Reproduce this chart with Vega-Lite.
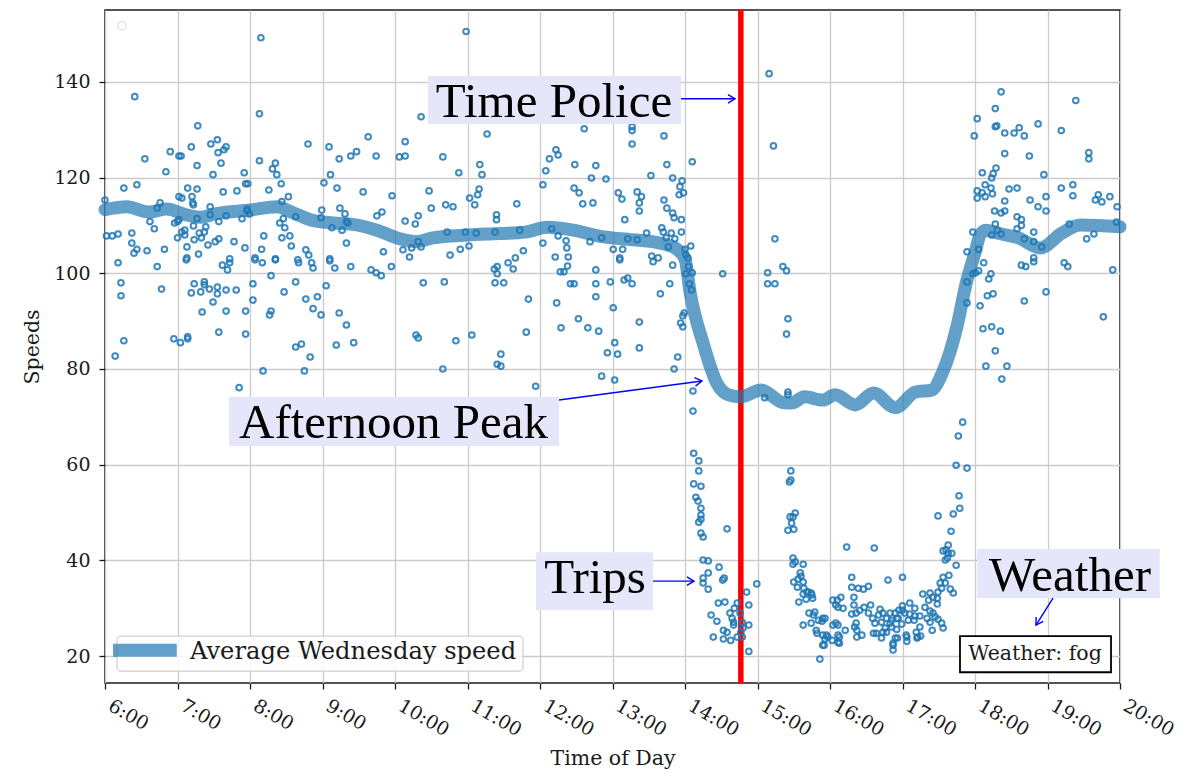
{
"$schema":"https://vega.github.io/schema/vega-lite/v6.json",
"width":1015,"height":673,
"autosize":{"type":"none"},
"padding":{"left":105,"top":10,"right":76,"bottom":89},
"background":"white",
"datasets":{
"avg":[{"t":6.0,"s":113.3},{"t":6.3,"s":113.9},{"t":6.6,"s":112.8},{"t":6.85,"s":113.4},{"t":7.1,"s":112.3},{"t":7.3,"s":111.7},{"t":7.55,"s":112.5},{"t":8.0,"s":113.2},{"t":8.37,"s":113.9},{"t":8.6,"s":112.6},{"t":8.83,"s":111.2},{"t":9.15,"s":110.5},{"t":9.42,"s":110.2},{"t":9.75,"s":109},{"t":10.07,"s":107.2},{"t":10.3,"s":106.6},{"t":10.52,"s":107.4},{"t":11.0,"s":108},{"t":11.45,"s":108.3},{"t":11.8,"s":108.6},{"t":12.1,"s":109.6},{"t":12.46,"s":109},{"t":12.83,"s":107.7},{"t":13.28,"s":107},{"t":13.66,"s":106.3},{"t":13.89,"s":105},{"t":14.0,"s":103},{"t":14.07,"s":96},{"t":14.25,"s":85.4},{"t":14.44,"s":77},{"t":14.6,"s":74.6},{"t":14.77,"s":74.2},{"t":15.05,"s":75.6},{"t":15.35,"s":73},{"t":15.47,"s":72.9},{"t":15.65,"s":74.2},{"t":15.9,"s":73.5},{"t":16.07,"s":74.6},{"t":16.35,"s":72.5},{"t":16.6,"s":75},{"t":16.9,"s":71.9},{"t":17.18,"s":75.2},{"t":17.4,"s":75.6},{"t":17.55,"s":79.2},{"t":17.75,"s":88.8},{"t":17.88,"s":98},{"t":17.97,"s":102.8},{"t":18.0,"s":104.3},{"t":18.07,"s":108},{"t":18.15,"s":109},{"t":18.3,"s":108.4},{"t":18.6,"s":107.4},{"t":18.9,"s":105.3},{"t":19.2,"s":108.4},{"t":19.45,"s":110.1},{"t":20.0,"s":109.7}],
"pts":[
{"t":6.0,"s":115.3},{"t":6.02,"s":107.8},{"t":6.1,"s":107.8},{"t":6.18,"s":108.2},{"t":6.26,"s":117.8},{"t":6.37,"s":108.4},{"t":6.37,"s":106.3},{"t":6.4,"s":104.2},{"t":6.44,"s":105},{"t":6.44,"s":118.5},{"t":6.41,"s":136.9},{"t":6.55,"s":123.9},{"t":6.58,"s":104.7},{"t":6.62,"s":110.8},{"t":6.68,"s":109.3},{"t":6.72,"s":113.6},{"t":6.76,"s":114.7},{"t":6.82,"s":105},{"t":6.84,"s":121.2},{"t":6.9,"s":125.4},{"t":6.96,"s":110.5},{"t":7.0,"s":110.8},{"t":7.02,"s":124.5},{"t":7.05,"s":124.5},{"t":7.02,"s":116},{"t":7.06,"s":115.7},{"t":7.02,"s":111.2},{"t":7.0,"s":107.4},{"t":7.06,"s":108.6},{"t":7.1,"s":109},{"t":7.1,"s":108},{"t":7.13,"s":105.5},{"t":7.13,"s":103.2},{"t":7.14,"s":117.8},{"t":7.19,"s":126.4},{"t":7.2,"s":116},{"t":7.21,"s":114.7},{"t":7.22,"s":114.3},{"t":7.27,"s":117.6},{"t":7.27,"s":122.5},{"t":7.28,"s":130.8},{"t":7.27,"s":111.4},{"t":7.22,"s":109.9},{"t":7.23,"s":107},{"t":7.29,"s":104},{"t":7.3,"s":108.4},{"t":7.33,"s":107.4},{"t":7.37,"s":108.6},{"t":7.39,"s":109.7},{"t":7.42,"s":105.9},{"t":7.45,"s":113.9},{"t":7.45,"s":112.2},{"t":7.46,"s":127},{"t":7.49,"s":120.6},{"t":7.52,"s":106.6},{"t":7.55,"s":127.9},{"t":7.56,"s":125.2},{"t":7.57,"s":107.2},{"t":7.57,"s":110.8},{"t":7.6,"s":123},{"t":7.63,"s":117},{"t":7.64,"s":125.8},{"t":7.67,"s":126.4},{"t":7.67,"s":112},{"t":7.72,"s":103},{"t":7.78,"s":106.6},{"t":7.82,"s":117.2},{"t":7.89,"s":111.4},{"t":7.92,"s":121},{"t":7.94,"s":118.7},{"t":7.97,"s":118.7},{"t":7.96,"s":113},{"t":7.93,"s":105.3},{"t":7.96,"s":113.4},{"t":7.99,"s":112.4},{"t":8.07,"s":103.2},{"t":8.13,"s":123.5},{"t":8.13,"s":133.3},{"t":8.15,"s":149.2},{"t":8.16,"s":105},{"t":8.19,"s":107.8},{"t":8.26,"s":117.4},{"t":8.31,"s":121.8},{"t":8.35,"s":123},{"t":8.37,"s":120.6},{"t":8.35,"s":103},{"t":8.41,"s":110.5},{"t":8.43,"s":118.7},{"t":8.44,"s":115},{"t":8.46,"s":111.4},{"t":8.48,"s":109.5},{"t":8.44,"s":107.4},{"t":8.53,"s":116},{"t":8.55,"s":107.8},{"t":8.57,"s":105.7},{"t":8.63,"s":111.8},{"t":8.66,"s":102.8},{"t":8.77,"s":104.9},{"t":8.8,"s":127},{"t":8.81,"s":103.8},{"t":8.98,"s":111.6},{"t":8.99,"s":113.2},{"t":9.02,"s":118.9},{"t":9.09,"s":126.4},{"t":9.11,"s":120.6},{"t":9.13,"s":109.5},{"t":9.1,"s":103},{"t":9.2,"s":117.8},{"t":9.24,"s":113.6},{"t":9.23,"s":123.9},{"t":9.27,"s":109},{"t":9.31,"s":112.4},{"t":9.33,"s":110.8},{"t":9.35,"s":110.5},{"t":9.33,"s":106.3},{"t":9.39,"s":124.5},{"t":9.47,"s":125.4},{"t":9.56,"s":117},{"t":9.63,"s":128.5},{"t":9.74,"s":124.5},{"t":9.75,"s":112},{"t":9.82,"s":112.8},{"t":9.84,"s":104.5},{"t":9.96,"s":116.2},{"t":10.06,"s":124.3},
{"t":6.18,"s":102.2},{"t":6.22,"s":98},{"t":6.22,"s":95.3},{"t":6.26,"s":85.9},{"t":6.14,"s":82.7},{"t":6.72,"s":101.4},{"t":6.78,"s":96.7},{"t":6.95,"s":86.3},{"t":7.04,"s":85.5},{"t":7.14,"s":86.3},{"t":7.14,"s":86.7},{"t":7.12,"s":102.8},{"t":7.19,"s":95.9},{"t":7.23,"s":97.8},{"t":7.32,"s":96.1},{"t":7.37,"s":98.2},{"t":7.37,"s":97.6},{"t":7.34,"s":91.9},{"t":7.44,"s":96.7},{"t":7.49,"s":94},{"t":7.55,"s":97.1},{"t":7.55,"s":95.7},{"t":7.57,"s":87.7},{"t":7.62,"s":101.7},{"t":7.69,"s":100.7},{"t":7.72,"s":102.2},{"t":7.67,"s":96.5},{"t":7.67,"s":92.1},{"t":7.81,"s":96.5},{"t":7.85,"s":76.1},{"t":7.94,"s":92.1},{"t":7.94,"s":87.3},{"t":8.04,"s":97.8},{"t":8.04,"s":94.4},{"t":8.07,"s":102.8},{"t":8.17,"s":102.2},{"t":8.18,"s":79.6},{"t":8.29,"s":99.5},{"t":8.29,"s":92.1},{"t":8.27,"s":91.3},{"t":8.35,"s":102.8},{"t":8.47,"s":96.1},{"t":8.63,"s":84.6},{"t":8.71,"s":85.2},{"t":8.63,"s":98.2},{"t":8.67,"s":102.2},{"t":8.77,"s":94.6},{"t":8.83,"s":82.5},{"t":8.75,"s":79.6},{"t":8.85,"s":102.2},{"t":8.87,"s":101.1},{"t":8.87,"s":92.6},{"t":8.93,"s":95.1},{"t":8.98,"s":91.3},{"t":9.05,"s":97.4},{"t":9.1,"s":102.6},{"t":9.17,"s":101.1},{"t":9.23,"s":91.7},{"t":9.33,"s":89.2},{"t":9.19,"s":85},{"t":9.43,"s":85.5},{"t":9.39,"s":101.4},{"t":9.67,"s":100.7},{"t":9.74,"s":100.1},{"t":9.81,"s":99.5},{"t":9.95,"s":101.4},
{"t":10.98,"s":150.5},{"t":10.36,"s":132.7},{"t":10.14,"s":127.5},{"t":10.14,"s":124.5},{"t":10.66,"s":124.3},{"t":11.27,"s":129.1},{"t":11.17,"s":122.7},{"t":11.2,"s":120.6},{"t":10.88,"s":121},{"t":10.47,"s":117.2},{"t":10.5,"s":113.6},{"t":10.14,"s":110.9},{"t":10.28,"s":110.3},{"t":10.32,"s":112},{"t":10.7,"s":114.3},{"t":10.8,"s":113.9},{"t":11.03,"s":115.7},{"t":11.1,"s":114.3},{"t":11.16,"s":117.6},{"t":11.14,"s":116.4},{"t":11.4,"s":112.2},{"t":11.4,"s":111.2},{"t":11.68,"s":114.5},{"t":12.04,"s":118.5},{"t":12.08,"s":121.4},{"t":12.13,"s":123.9},{"t":12.22,"s":125.8},{"t":12.25,"s":124.7},{"t":12.48,"s":122.7},{"t":12.61,"s":130.2},{"t":12.77,"s":122.5},{"t":12.71,"s":119.9},{"t":12.91,"s":119.7},{"t":12.47,"s":117.8},{"t":12.54,"s":116.8},{"t":12.59,"s":114.5},{"t":12.73,"s":114.7},{"t":13.08,"s":116.8},{"t":13.13,"s":115.5},{"t":13.34,"s":117},{"t":13.4,"s":116},{"t":13.53,"s":120.4},{"t":13.37,"s":113},{"t":13.17,"s":111.2},{"t":13.27,"s":130.6},{"t":13.27,"s":129.8},{"t":13.27,"s":127},{"t":13.71,"s":128.7},{"t":13.75,"s":122.7},{"t":13.83,"s":119.9},{"t":13.96,"s":119.3},{"t":13.93,"s":118.1},{"t":13.98,"s":116.8},{"t":14.1,"s":123.3},{"t":13.92,"s":116.4},{"t":13.71,"s":115.3},{"t":13.75,"s":113.6},{"t":13.37,"s":114.7},{"t":13.83,"s":112.6},{"t":13.85,"s":111.6},{"t":13.95,"s":111.2},{"t":13.95,"s":108.6},{"t":13.68,"s":109.5},{"t":13.7,"s":108.6},{"t":13.74,"s":107.4},{"t":13.81,"s":108.4},{"t":13.86,"s":107.2},{"t":13.77,"s":105.5},{"t":13.47,"s":108.4},{"t":13.21,"s":107.2},{"t":13.34,"s":107},{"t":13.01,"s":105},{"t":13.14,"s":105},{"t":12.85,"s":107.4},{"t":12.69,"s":106.6},{"t":12.36,"s":106.8},{"t":12.25,"s":107.8},{"t":12.16,"s":109.3},{"t":12.04,"s":106.3},{"t":11.72,"s":109},{"t":11.38,"s":108.6},{"t":11.12,"s":108.4},{"t":10.97,"s":108.6},{"t":10.72,"s":108.6},{"t":11.02,"s":105.7},{"t":10.9,"s":105},{"t":10.76,"s":103.8},{"t":10.36,"s":105.5},{"t":10.32,"s":106.6},{"t":10.23,"s":105.3},{"t":10.11,"s":104.9},{"t":10.2,"s":103.4},{"t":11.77,"s":104.7},{"t":12.37,"s":105.3},{"t":12.39,"s":103.4},{"t":12.21,"s":103.4},{"t":11.66,"s":103.2},{"t":13.1,"s":103.2},{"t":13.54,"s":103.6},{"t":13.63,"s":103.2},{"t":14.0,"s":105},{"t":14.01,"s":103.8},{"t":14.04,"s":103.2},{"t":14.08,"s":105.7},{"t":15.16,"s":141.7},{"t":15.22,"s":126.6},{"t":15.24,"s":107.2},
{"t":10.39,"s":98},{"t":10.68,"s":98.2},{"t":10.29,"s":87.1},{"t":10.32,"s":86.5},{"t":10.84,"s":85.9},{"t":11.06,"s":87.1},{"t":10.66,"s":80},{"t":11.37,"s":100.9},{"t":11.41,"s":101.4},{"t":11.41,"s":99.9},{"t":11.38,"s":98},{"t":11.5,"s":98},{"t":11.56,"s":102.2},{"t":11.63,"s":100.9},{"t":11.84,"s":94.6},{"t":11.81,"s":87.7},{"t":11.46,"s":83.1},{"t":11.41,"s":81},{"t":11.46,"s":80.6},{"t":11.94,"s":76.4},{"t":12.23,"s":93.8},{"t":12.29,"s":88.6},{"t":12.28,"s":100.3},{"t":12.33,"s":100.3},{"t":12.38,"s":101.5},{"t":12.42,"s":97.8},{"t":12.47,"s":97.8},{"t":12.53,"s":90.5},{"t":12.66,"s":88.6},{"t":12.77,"s":100.7},{"t":12.77,"s":97.8},{"t":12.77,"s":95.1},{"t":12.81,"s":87.9},{"t":12.85,"s":78.5},{"t":12.97,"s":98.2},{"t":13.01,"s":92.8},{"t":13.03,"s":85.5},{"t":12.93,"s":83.4},{"t":13.07,"s":83.1},{"t":13.03,"s":77.7},{"t":13.16,"s":98.6},{"t":13.21,"s":99},{"t":13.27,"s":97.8},{"t":13.37,"s":89.8},{"t":13.37,"s":84.4},{"t":13.1,"s":102.8},{"t":13.56,"s":102.4},{"t":13.66,"s":95.7},{"t":13.79,"s":97.8},{"t":13.83,"s":101.7},{"t":13.85,"s":80},{"t":13.9,"s":82.5},{"t":13.94,"s":89.6},{"t":13.97,"s":88.8},{"t":13.97,"s":91.1},{"t":13.99,"s":91.7},{"t":14.01,"s":99.9},{"t":14.05,"s":101.4},{"t":14.1,"s":100.1},{"t":14.06,"s":97.8},{"t":14.09,"s":96.5},{"t":14.11,"s":75.4},{"t":14.11,"s":71.2},{"t":14.52,"s":99.9},{"t":15.1,"s":74},{"t":15.14,"s":100.1},{"t":15.14,"s":97.8},{"t":15.24,"s":97.8},{"t":15.35,"s":101.4},{"t":15.4,"s":100.5},{"t":15.42,"s":90.5},{"t":15.4,"s":87.3},{"t":15.42,"s":75.2},{"t":15.42,"s":74.6},{"t":14.12,"s":62.4},{"t":14.19,"s":60.8},{"t":14.19,"s":58.7},{"t":14.12,"s":56},{"t":14.22,"s":55.5},{"t":14.15,"s":53.2},{"t":14.18,"s":52.4},{"t":14.22,"s":50.9},{"t":14.22,"s":49.5},{"t":15.46,"s":58.7},{"t":15.44,"s":56.4},{"t":15.46,"s":56.8},{"t":15.52,"s":49.9},
{"t":14.22,"s":48.6},{"t":14.19,"s":48},{"t":14.22,"s":45.7},{"t":14.25,"s":44.9},{"t":14.58,"s":46.6},{"t":14.25,"s":40.1},{"t":14.32,"s":39.9},{"t":14.47,"s":38.6},{"t":14.32,"s":37.4},{"t":14.25,"s":36.3},{"t":14.25,"s":35.3},{"t":14.52,"s":35.9},{"t":14.54,"s":36.3},{"t":14.32,"s":34},{"t":14.99,"s":35.1},{"t":14.85,"s":33.4},{"t":14.88,"s":30.7},{"t":14.46,"s":31.1},{"t":14.55,"s":31.3},{"t":14.72,"s":31.1},{"t":14.68,"s":30},{"t":14.62,"s":29},{"t":14.36,"s":28.6},{"t":14.76,"s":29},{"t":14.65,"s":27.9},{"t":14.67,"s":27.1},{"t":14.44,"s":27.3},{"t":14.79,"s":27.1},{"t":14.88,"s":26.5},{"t":14.67,"s":26.5},{"t":14.8,"s":25.9},{"t":14.53,"s":25.4},{"t":14.58,"s":25},{"t":14.39,"s":24},{"t":14.53,"s":23.6},{"t":14.63,"s":23.3},{"t":14.72,"s":24},{"t":14.79,"s":24},{"t":14.77,"s":25},{"t":14.88,"s":21},{"t":15.42,"s":46.3},{"t":15.45,"s":49.1},
{"t":15.49,"s":49.1},{"t":15.47,"s":47.8},{"t":15.5,"s":46.5},{"t":15.49,"s":40.5},{"t":15.52,"s":39.7},{"t":15.63,"s":39.2},{"t":15.49,"s":39.2},{"t":15.6,"s":36.7},{"t":15.56,"s":36.1},{"t":15.5,"s":35.5},{"t":15.63,"s":35.5},{"t":15.55,"s":34.4},{"t":15.64,"s":34.2},{"t":15.68,"s":33.4},{"t":15.63,"s":33},{"t":15.74,"s":33.2},{"t":15.76,"s":32.1},{"t":15.67,"s":31.9},{"t":15.57,"s":31.3},{"t":15.71,"s":29},{"t":15.77,"s":28.6},{"t":15.74,"s":26.9},{"t":15.63,"s":26.5},{"t":15.81,"s":25.4},{"t":15.89,"s":27.3},{"t":15.93,"s":27.9},{"t":15.82,"s":24.8},{"t":15.9,"s":24.4},{"t":15.93,"s":23.6},{"t":15.97,"s":24},{"t":15.9,"s":22.3},{"t":16.03,"s":23.3},{"t":15.86,"s":19.4},{"t":16.23,"s":42.8},{"t":16.61,"s":42.6},{"t":16.3,"s":36.5},{"t":16.3,"s":34.4},{"t":16.39,"s":34.2},{"t":16.46,"s":34},{"t":16.53,"s":34.6},{"t":16.8,"s":35.9},{"t":16.33,"s":32.3},{"t":16.1,"s":31.7},{"t":16.15,"s":32.3},{"t":16.08,"s":30.7},{"t":16.11,"s":30.2},{"t":16.18,"s":30},{"t":16.08,"s":26.9},{"t":16.04,"s":26.5},{"t":16.11,"s":26.5},{"t":16.21,"s":25.4},{"t":16.13,"s":24},{"t":16.13,"s":22.7},{"t":16.3,"s":28.8},{"t":16.36,"s":29},{"t":16.41,"s":29.6},{"t":16.47,"s":30.2},{"t":16.56,"s":30.7},{"t":16.36,"s":26.9},{"t":16.34,"s":26.1},{"t":16.37,"s":25.4},{"t":16.44,"s":24.4},{"t":16.37,"s":24},{"t":16.53,"s":29},{"t":16.59,"s":27.9},{"t":16.62,"s":26.9},{"t":16.6,"s":24.8},{"t":16.64,"s":24.8},{"t":16.69,"s":29.8},{"t":16.67,"s":28.6},{"t":16.73,"s":29},{"t":16.78,"s":27.9},{"t":16.71,"s":27.1},{"t":16.76,"s":25.9},{"t":16.73,"s":25},{"t":16.71,"s":23.8},{"t":16.78,"s":25},{"t":16.83,"s":29},{"t":16.9,"s":29},{"t":16.85,"s":27.5},{"t":16.92,"s":27.9},{"t":16.85,"s":26.1},{"t":16.9,"s":23.8},{"t":16.87,"s":22.7},{"t":16.87,"s":21.3},
{"t":17.83,"s":68.9},{"t":17.77,"s":66},{"t":17.74,"s":59.9},{"t":17.89,"s":59.3},{"t":17.78,"s":53.5},{"t":17.79,"s":50.9},{"t":17.49,"s":49.3},{"t":17.7,"s":49.7},{"t":17.67,"s":46.1},{"t":17.63,"s":43.2},{"t":17.6,"s":42.2},{"t":17.63,"s":41.5},{"t":17.68,"s":41.5},{"t":17.59,"s":40.1},{"t":17.62,"s":40.5},{"t":17.74,"s":39},{"t":17.0,"s":36.5},{"t":17.56,"s":36.5},{"t":17.64,"s":36.9},{"t":17.52,"s":35.3},{"t":17.59,"s":35.3},{"t":17.54,"s":34.2},{"t":17.49,"s":33.4},{"t":17.66,"s":34},{"t":17.7,"s":33.2},{"t":17.28,"s":33},{"t":17.38,"s":33.2},{"t":17.42,"s":32.3},{"t":17.36,"s":31.7},{"t":17.48,"s":32.1},{"t":17.48,"s":30.9},{"t":17.0,"s":30.5},{"t":17.1,"s":31.1},{"t":17.17,"s":30},{"t":17.31,"s":30.2},{"t":16.95,"s":29.6},{"t":17.03,"s":29},{"t":17.1,"s":28.8},{"t":17.17,"s":28.4},{"t":17.24,"s":28.4},{"t":17.38,"s":29.4},{"t":17.42,"s":29},{"t":16.94,"s":27.9},{"t":17.08,"s":27.5},{"t":17.16,"s":27.5},{"t":17.34,"s":27.9},{"t":17.38,"s":27.1},{"t":17.49,"s":27.7},{"t":16.83,"s":26.9},{"t":16.99,"s":26.7},{"t":17.24,"s":26.1},{"t":17.54,"s":26.9},{"t":17.56,"s":25.9},{"t":17.41,"s":25.4},{"t":16.92,"s":25.6},{"t":17.05,"s":24.4},{"t":17.25,"s":24.2},{"t":17.2,"s":23.8},{"t":17.06,"s":23.1},{"t":16.87,"s":22.3},
{"t":16.04,"s":31.7},{"t":15.59,"s":37.4},{"t":15.7,"s":33.4},{"t":15.75,"s":32.8},{"t":15.79,"s":29.2},{"t":15.84,"s":27.5},{"t":15.9,"s":27.9},{"t":15.95,"s":24.4},{"t":15.92,"s":22.3},{"t":16.11,"s":24.4},{"t":16.11,"s":22.9},{"t":16.33,"s":30.7},{"t":17.0,"s":29.6},{"t":17.45,"s":28.2},{"t":16.93,"s":23.8},{"t":17.06,"s":24},{"t":17.21,"s":24},{"t":17.19,"s":25},{"t":17.56,"s":42},
{"t":18.36,"s":137.9},{"t":18.28,"s":134.4},{"t":18.03,"s":132.3},{"t":17.99,"s":128.7},{"t":18.28,"s":130.6},{"t":18.3,"s":130.8},{"t":18.41,"s":129.3},{"t":18.54,"s":129.3},{"t":18.61,"s":130.4},{"t":18.68,"s":128.7},{"t":18.87,"s":131.2},{"t":19.19,"s":129.8},{"t":19.39,"s":136.1},{"t":18.41,"s":125},{"t":18.75,"s":124.5},{"t":19.57,"s":125.2},{"t":19.57,"s":123.9},{"t":18.1,"s":121},{"t":18.25,"s":120.8},{"t":18.23,"s":119.9},{"t":18.29,"s":122},{"t":18.95,"s":120.6},{"t":18.14,"s":118.5},{"t":18.22,"s":117.8},{"t":18.03,"s":117.2},{"t":18.03,"s":115.7},{"t":18.1,"s":116.8},{"t":18.14,"s":116},{"t":18.24,"s":116.6},{"t":18.47,"s":117.6},{"t":18.58,"s":117.8},{"t":18.76,"s":115.3},{"t":18.98,"s":116},{"t":19.19,"s":117.8},{"t":19.35,"s":118.5},{"t":19.35,"s":116.2},{"t":19.7,"s":116.4},{"t":19.66,"s":115.3},{"t":19.75,"s":114.9},{"t":19.86,"s":116},{"t":19.96,"s":113.9},{"t":19.95,"s":110.7},{"t":18.41,"s":115.1},{"t":18.41,"s":113},{"t":18.27,"s":113},{"t":18.36,"s":112.6},{"t":18.87,"s":113.9},{"t":18.98,"s":113},{"t":18.58,"s":111.8},{"t":18.64,"s":111.2},{"t":18.64,"s":110},{"t":18.58,"s":109.3},{"t":18.28,"s":110.3},{"t":19.3,"s":110.3},{"t":17.97,"s":108.6},{"t":18.23,"s":108},{"t":18.31,"s":109},{"t":18.36,"s":108.2},{"t":18.68,"s":107.2},{"t":18.81,"s":108.6},{"t":18.81,"s":106.6},{"t":18.92,"s":105.5},{"t":19.54,"s":107.2},{"t":19.64,"s":108.2},{"t":17.89,"s":104.5},{"t":18.05,"s":105},{"t":18.81,"s":103.2},
{"t":17.97,"s":99.9},{"t":18.01,"s":100.1},{"t":18.05,"s":100.5},{"t":18.12,"s":102.2},{"t":18.22,"s":99.9},{"t":18.19,"s":98.8},{"t":17.89,"s":98.2},{"t":17.89,"s":93.8},{"t":18.17,"s":95.3},{"t":18.25,"s":95.7},{"t":18.07,"s":93.2},{"t":18.11,"s":88.4},{"t":18.23,"s":88.8},{"t":18.35,"s":87.9},{"t":18.28,"s":83.8},{"t":18.15,"s":80.6},{"t":18.44,"s":80.6},{"t":18.37,"s":77.9},{"t":18.64,"s":101.7},{"t":18.7,"s":101.4},{"t":18.81,"s":102.4},{"t":18.68,"s":94.2},{"t":18.98,"s":96.1},{"t":19.23,"s":102.2},{"t":19.28,"s":101.4},{"t":19.77,"s":90.9},{"t":19.9,"s":100.7}
],
"notes":[
{"label":"Time Police","x1":10.455,"x2":13.945,"y1":131.2,"y2":141.26,"tx":12.193,"ty":132.7,"a1":13.945,"b1":136.45,"a2":14.69,"b2":136.45},
{"label":"Afternoon Peak","x1":7.71,"x2":12.262,"y1":63.9,"y2":74.15,"tx":9.979,"ty":65.6,"a1":12.262,"b1":73.52,"a2":14.234,"b2":77.5},
{"label":"Trips","x1":11.945,"x2":13.559,"y1":29.62,"y2":41.74,"tx":12.759,"ty":33.2,"a1":13.559,"b1":35.68,"a2":14.124,"b2":35.68},
{"label":"Weather","x1":18.03,"x2":20.55,"y1":32.13,"y2":42.37,"tx":19.31,"ty":33.6,"a1":19.076,"b1":32.13,"a2":18.841,"b2":26.48}
],
"wbox":[{"label":"Weather: fog","x1":17.793,"x2":19.876,"y1":16.65,"y2":24.18,"tx":18.828,"ty":19.16}],
"leg":[{"label":"Average Wednesday speed","x1":6.166,"x2":11.766,"y1":16.86,"y2":24.18,"l1":6.11,"l2":6.99,"ly":21.25,"tx":7.172,"ty":19.5}]
},
"layer":[
{"data":{"name":"pts"},"mark":{"type":"point","filled":false,"color":"#1f77b4","strokeWidth":1.8,"size":28,"opacity":0},
 "encoding":{
  "x":{"field":"t","type":"quantitative","scale":{"domain":[6,20],"nice":false,"zero":false},
   "axis":{"title":"Time of Day","values":[6,7,8,9,10,11,12,13,14,15,16,17,18,19,20],"labelExpr":"datum.value + ':00'","labelAngle":30,"labelAlign":"left","labelBaseline":"top","labelOffset":9,"labelPadding":7,"labelFontSize":19,"grid":true,"titlePadding":9}},
  "y":{"field":"s","type":"quantitative","scale":{"domain":[14.4,155],"nice":false,"zero":false},
   "axis":{"title":"Speeds","values":[20,40,60,80,100,120,140],"grid":true,"labelPadding":9,"labelFontSize":19,"titlePadding":11}}}},
{"data":{"values":[{"t":14.77}]},"mark":{"type":"rule","color":"#ff0000","strokeWidth":5.5},
 "encoding":{"x":{"field":"t","type":"quantitative"}}},
{"data":{"name":"avg"},"mark":{"type":"line","strokeWidth":13,"opacity":0.7,"interpolate":"monotone","strokeCap":"round"},
 "encoding":{"x":{"field":"t","type":"quantitative"},"y":{"field":"s","type":"quantitative"},
  "color":{"datum":"Average Wednesday speed","type":"nominal","scale":{"range":["#1f77b4"]},"legend":null}}},
{"data":{"name":"pts"},"mark":{"type":"point","filled":false,"color":"#1f77b4","strokeWidth":2,"size":32,"opacity":0.85},
 "encoding":{"x":{"field":"t","type":"quantitative"},"y":{"field":"s","type":"quantitative"}}},
{"data":{"values":[{"t":6.234,"s":151.7}]},"mark":{"type":"point","filled":false,"color":"#d9d9d9","strokeWidth":1.5,"size":70},
 "encoding":{"x":{"field":"t","type":"quantitative"},"y":{"field":"s","type":"quantitative"}}},
{"data":{"name":"notes"},"mark":{"type":"rect","fill":"#e6e6fa"},
 "encoding":{"x":{"field":"x1","type":"quantitative"},"x2":{"field":"x2"},"y":{"field":"y1","type":"quantitative"},"y2":{"field":"y2"}}},
{"data":{"name":"notes"},"mark":{"type":"text","font":"Liberation Serif","fontSize":49,"align":"center","baseline":"alphabetic","color":"#000000"},
 "encoding":{"x":{"field":"tx","type":"quantitative"},"y":{"field":"ty","type":"quantitative"},"text":{"field":"label"}}},
{"data":{"name":"notes"},"mark":{"type":"rule","color":"#0000ff","strokeWidth":1.4},
 "encoding":{"x":{"field":"a1","type":"quantitative"},"x2":{"field":"a2"},"y":{"field":"b1","type":"quantitative"},"y2":{"field":"b2"}}},
{"data":{"name":"notes"},"transform":[{"filter":"datum.label === 'Time Police' || datum.label === 'Trips'"}],
 "mark":{"type":"point","shape":"M-1,-0.6L0,0L-1,0.6","filled":false,"color":"#0000ff","strokeWidth":1.4,"size":200,"opacity":1},
 "encoding":{"x":{"field":"a2","type":"quantitative"},"y":{"field":"b2","type":"quantitative"}}},
{"data":{"name":"notes"},"transform":[{"filter":"datum.label === 'Afternoon Peak'"}],
 "mark":{"type":"point","shape":"M-1,-0.6L0,0L-1,0.6","filled":false,"color":"#0000ff","strokeWidth":1.4,"size":200,"opacity":1,"angle":-7.6},
 "encoding":{"x":{"field":"a2","type":"quantitative"},"y":{"field":"b2","type":"quantitative"}}},
{"data":{"name":"notes"},"transform":[{"filter":"datum.label === 'Weather'"}],
 "mark":{"type":"point","shape":"M-1,-0.6L0,0L-1,0.6","filled":false,"color":"#0000ff","strokeWidth":1.4,"size":200,"opacity":1,"angle":122},
 "encoding":{"x":{"field":"a2","type":"quantitative"},"y":{"field":"b2","type":"quantitative"}}},
{"data":{"name":"wbox"},"mark":{"type":"rect","fill":"#ffffff","stroke":"#000000","strokeWidth":1.8},
 "encoding":{"x":{"field":"x1","type":"quantitative"},"x2":{"field":"x2"},"y":{"field":"y1","type":"quantitative"},"y2":{"field":"y2"}}},
{"data":{"name":"wbox"},"mark":{"type":"text","font":"DejaVu Serif","fontSize":20.5,"align":"center","baseline":"alphabetic","color":"#1a1a1a"},
 "encoding":{"x":{"field":"tx","type":"quantitative"},"y":{"field":"ty","type":"quantitative"},"text":{"field":"label"}}},
{"data":{"name":"leg"},"mark":{"type":"rect","fill":"#ffffff","fillOpacity":0.8,"stroke":"#d0d0d0","strokeWidth":1.2,"cornerRadius":4},
 "encoding":{"x":{"field":"x1","type":"quantitative"},"x2":{"field":"x2"},"y":{"field":"y1","type":"quantitative"},"y2":{"field":"y2"}}},
{"data":{"name":"leg"},"mark":{"type":"rule","color":"#1f77b4","strokeWidth":13,"opacity":0.7},
 "encoding":{"x":{"field":"l1","type":"quantitative"},"x2":{"field":"l2"},"y":{"field":"ly","type":"quantitative"}}},
{"data":{"name":"leg"},"mark":{"type":"text","font":"DejaVu Serif","fontSize":24.2,"align":"left","baseline":"alphabetic","color":"#1a1a1a"},
 "encoding":{"x":{"field":"tx","type":"quantitative"},"y":{"field":"ty","type":"quantitative"},"text":{"field":"label"}}}
],
"config":{
 "view":{"stroke":"#1a1a1a","strokeWidth":1.6},
 "axis":{"labelFont":"DejaVu Serif","labelFontSize":19,"labelColor":"#1a1a1a","titleFont":"DejaVu Serif","titleFontSize":20.5,"titleFontWeight":"normal","titleColor":"#1a1a1a","gridColor":"#cbcbcb","gridWidth":1.3,"tickColor":"#1a1a1a","tickSize":6,"tickWidth":1.3,"domain":false}
}
}
